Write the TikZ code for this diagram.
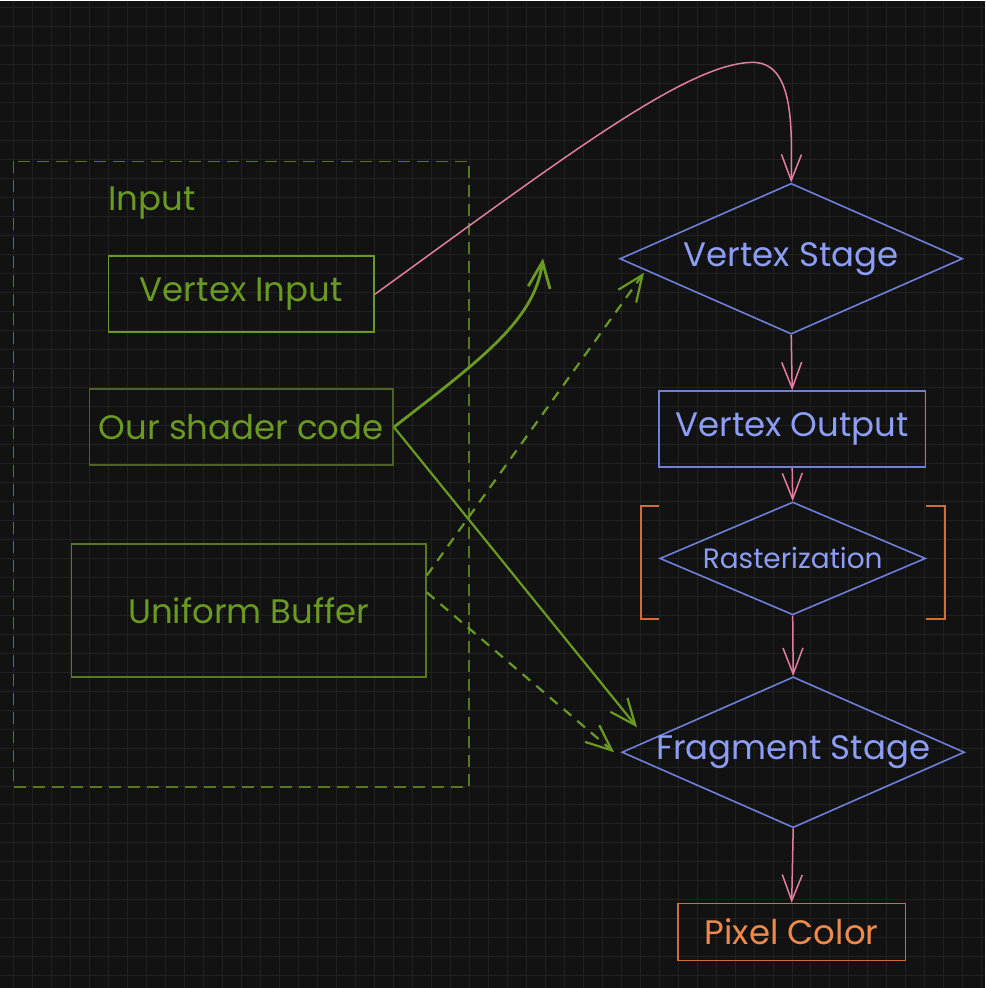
\documentclass[tikz,border=0pt]{standalone}
\usepackage{fontspec}
\setmainfont{Poppins}
\usetikzlibrary{shapes.geometric,arrows.meta}
\definecolor{bgdark}{HTML}{121212}
\definecolor{gridln}{HTML}{212121}
\definecolor{leaf}{HTML}{6A9A22}
\definecolor{leafdim}{HTML}{4C6322}
\definecolor{framegreen}{HTML}{58781F}
\definecolor{stageblue}{HTML}{6E80DA}
\definecolor{stagetext}{HTML}{8C9EF5}
\definecolor{wire}{HTML}{E27E9F}
\definecolor{ember}{HTML}{D46C35}
\definecolor{embertext}{HTML}{EE8A4C}
\def\labelsize{\fontsize{34}{40}\selectfont}
\def\smallsize{\fontsize{28}{32}\selectfont}
\newcommand{\nowidth}[1]{\makebox[0pt]{#1}}

\begin{document}
\begin{tikzpicture}[x=1pt,y=-1pt,
  inbox/.style={draw=leaf,line width=1.6pt,minimum width=266pt,minimum height=76pt,text=leaf,font=\labelsize},
  stage/.style={diamond,draw=stageblue,line width=1.6pt,text=stagetext,font=\labelsize,inner sep=0pt},
  outbox/.style={draw=stageblue,line width=1.6pt,text=stagetext,font=\labelsize},
  wirearrow/.style={draw=wire,line width=1.5pt,-{Straight Barb[length=26pt,width=20pt]}},
  feed/.style={draw=leaf,line width=2.8pt,-{Straight Barb[length=26pt,width=22pt]}}]
\fill[bgdark] (0,0) rectangle (985,988);
\foreach \g in {0,...,51} {
  \draw[gridln,line width=1pt] ({13.3+19*\g},0) -- ({13.3+19*\g},988);
  \draw[gridln,line width=1pt] (0,{7.3+19*\g}) -- (985,{7.3+19*\g});
}
\useasboundingbox (0,0) rectangle (985,988);

% input side
\draw[framegreen,line width=1.6pt,dash pattern=on 12pt off 7pt] (13,161) rectangle (469,787);
\node[text=leaf,font=\labelsize,inner sep=0pt,anchor=west] (inlbl) at (108,203) {Input};
\node[inbox] (vin) at (241,294) {Vertex Input};
\node[inbox,draw=leafdim,minimum width=304pt] (code) at (241,427) {Our shader code};
\node[inbox,draw=framegreen,minimum width=355pt,minimum height=133pt] (ubuf) at (248.5,610.5) {Uniform Buffer};

% pipeline
\node[stage,minimum width=343pt,minimum height=151pt] (vs) at (791.5,258.5) {\nowidth{Vertex Stage}};
\node[outbox,minimum width=267pt,minimum height=76pt] (vo) at (792.5,429) {Vertex Output};
\node[stage,minimum width=266pt,minimum height=113pt,font=\smallsize] (rast) at (793,558.5) {\nowidth{Rasterization}};
\node[stage,minimum width=343pt,minimum height=151pt] (fs) at (793.5,752.5) {\nowidth{Fragment Stage}};
\node[draw=ember,line width=1.6pt,text=embertext,font=\labelsize,minimum width=228pt,minimum height=57pt] (pix) at (792,932.5) {Pixel Color};
\draw[ember,line width=2pt] (659,506) -- (641,506) -- (641,619) -- (659,619);
\draw[ember,line width=2pt] (926,506) -- (945,506) -- (945,619) -- (926,619);

% connectors
\draw[wirearrow] (vin.east) .. controls (560,160) and (690,60) .. (755,62) .. controls (795,64) and (792,130) .. (vs.north);
\draw[wirearrow] (vs.south) -- (vo.north);
\draw[wirearrow] (vo.south) -- (rast.north);
\draw[wirearrow] (rast.south) -- (fs.north);
\draw[wirearrow] (fs.south) -- (pix.north);

\coordinate (codeup) at (543,258);
\draw[feed] (code.east) .. controls (480,360) and (535,320) .. (codeup);
\draw[feed,line width=2.2pt] (code.east) -- ([shift={(16,-25)}]fs.west);
\draw[feed,line width=2.2pt,dashed,dash pattern=on 10pt off 8pt] ([yshift=35pt]ubuf.east) -- ([shift={(25,14)}]vs.west);
\draw[feed,line width=2.2pt,dashed,dash pattern=on 10pt off 8pt] ([yshift=18pt]ubuf.east) -- ([shift={(-7,0)}]fs.west);
\end{tikzpicture}
\end{document}
